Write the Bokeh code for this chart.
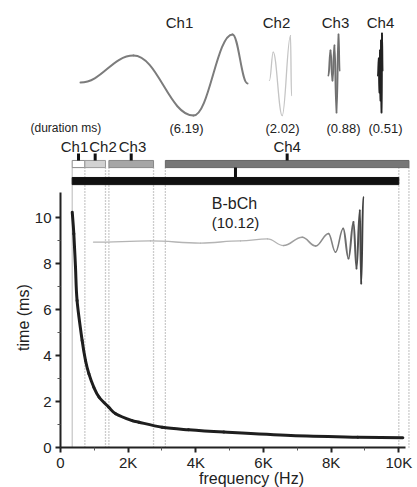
import numpy as np
from bokeh.plotting import figure
from bokeh.models import Range1d, FixedTicker, ColumnDataSource
from bokeh.embed import file_html
from bokeh.resources import INLINE
from bokeh.core.properties import value

# ---------------- data ----------------
curve_freq_hz = [347, 394, 443, 490, 640, 739, 840, 985, 1140, 1428, 1630,
                 2118, 2320, 3005, 3784, 4830, 6810, 8790, 10120]
curve_time_ms = [10.23, 9.29, 7.84, 6.39, 4.65, 3.78, 3.2, 2.62, 2.19, 1.75, 1.47,
                 1.17, 1.10, 0.88, 0.77, 0.67, 0.52, 0.45, 0.42]

channels = ["Ch1", "Ch2", "Ch3", "Ch4"]
band_lo_hz = [345, 720, 1430, 3100]
band_hi_hz = [720, 1330, 2750, 10300]
band_fill = ["#ffffff", "#d2d2d2", "#a6a6a6", "#777777"]
band_line = ["#8a8a8a", "#9a9a9a", "#888888", "#666666"]
durations_ms = [6.19, 2.02, 0.88, 0.51]
duration_labels = ["(6.19)", "(2.02)", "(0.88)", "(0.51)"]

bbch_name = "B-bCh"
bbch_lo_hz = 345
bbch_hi_hz = 10000
bbch_duration_ms = 10.12

edge_solid_hz = [345]
edge_dotted_hz = [720, 1330, 1430, 2750, 3100, 10000, 10300]

x_ticks = [0, 2000, 4000, 6000, 8000, 10000]
x_tick_labels = ["0", "2K", "4K", "6K", "8K", "10K"]
x_minor = [1000, 3000, 5000, 7000, 9000]
y_ticks = [0, 2, 4, 6, 8, 10]
y_minor = [1, 3, 5, 7, 9]

# illustrative waveforms: extrema (freq-axis units, time-axis units)
ch1_wx = [591, 2158, 3931, 5084, 5528]
ch1_wy = [15.87, 17.04, 14.43, 17.96, 15.83]
ch2_wx = [6178, 6287, 6553, 6799, 6828]
ch2_wy = [15.96, 17.19, 14.43, 17.91, 15.30]
ch3_wx = [7922, 7981, 8040, 8099, 8159, 8218, 8247]
ch3_wy = [16.17, 17.26, 15.96, 17.48, 14.57, 17.96, 16.39]
ch4_wx = [9385, 9409, 9430, 9444, 9459, 9474, 9489, 9503, 9518]
ch4_wy = [16.17, 16.91, 15.43, 17.26, 15.09, 17.70, 14.57, 18.0, 16.39]
bb_wx = [975, 2660, 4138, 5321, 6119, 6592, 7145, 7538, 7922, 8129, 8357,
         8513, 8661, 8750, 8848, 8889, 8948]
bb_wy = [8.93, 8.98, 8.89, 8.98, 9.07, 8.78, 9.14, 8.76, 9.30, 8.49, 9.52,
         8.22, 9.80, 7.78, 10.30, 7.13, 10.88]

FONT = value("Liberation Sans")
TXT = "#222222"

X0, X1 = -1773.6, 10552.8
Y0, Y1 = -1.739, 19.435
W, H = 417, 487

p = figure(width=W, height=H, output_backend="svg", toolbar_location=None,
           x_range=Range1d(X0, X1), y_range=Range1d(Y0, Y1),
           min_border=0, outline_line_color=None)
p.xgrid.visible = False
p.ygrid.visible = False

for ax in (p.xaxis, p.yaxis):
    ax.fixed_location = 0
    ax.axis_line_width = 2
    ax.axis_line_color = "#222222"
    ax.major_tick_line_color = "#222222"
    ax.minor_tick_line_color = "#555555"
    ax.major_tick_line_width = 2
    ax.major_tick_in = 0
    ax.major_tick_out = 5
    ax.minor_tick_in = 0
    ax.minor_tick_out = 3
    ax.major_label_text_font = "Liberation Sans"
    ax.major_label_text_font_size = "15px"
    ax.major_label_text_color = TXT
p.xaxis.bounds = (0, 10200)
p.yaxis.bounds = (0, 11.1)
p.xaxis.ticker = FixedTicker(ticks=x_ticks, minor_ticks=x_minor)
p.yaxis.ticker = FixedTicker(ticks=y_ticks, minor_ticks=y_minor)
p.xaxis.major_label_overrides = dict(zip(x_ticks, x_tick_labels))
p.xaxis.major_label_standoff = 1
p.yaxis.major_label_standoff = 4

# band edge lines
p.segment(x0=edge_solid_hz, y0=[0] * len(edge_solid_hz), x1=edge_solid_hz,
          y1=[12.17] * len(edge_solid_hz), line_color="#b8b8b8", line_width=1)
p.segment(x0=edge_dotted_hz, y0=[0] * len(edge_dotted_hz), x1=edge_dotted_hz,
          y1=[12.17] * len(edge_dotted_hz), line_color="#9a9a9a", line_width=1.3,
          line_dash="1 2")

# channel bars
bands = ColumnDataSource(dict(lo=band_lo_hz, hi=band_hi_hz, fill=band_fill, line=band_line,
                              mid=[(a + b) / 2 for a, b in zip(band_lo_hz, band_hi_hz)]))
p.quad(left="lo", right="hi", bottom=12.17, top=12.48, fill_color="fill",
       line_color="line", line_width=1, source=bands)
p.segment(x0="mid", y0=12.48, x1="mid", y1=12.78, line_color="#111111", line_width=3,
          source=bands)

# B-bCh bar
bb_mid = (bbch_lo_hz + bbch_hi_hz) / 2
p.segment(x0=[bb_mid], y0=[11.74], x1=[bb_mid], y1=[12.17], line_color="#111111", line_width=3)
p.quad(left=[bbch_lo_hz], right=[bbch_hi_hz], bottom=[11.43], top=[11.74],
       fill_color="#111111", line_color="#111111")

# main curve: smooth Catmull-Rom style bezier through the read points
sx = W / (X1 - X0)
sy = H / (Y1 - Y0)
cx = np.asarray(curve_freq_hz, float) * sx
cy = np.asarray(curve_time_ms, float) * sy
px = np.concatenate([[cx[0]], cx, [cx[-1]]])
py = np.concatenate([[cy[0]], cy, [cy[-1]]])
n = len(cx) - 1
c0x = cx[:-1] + (px[2:n + 2] - px[0:n]) / 6
c0y = cy[:-1] + (py[2:n + 2] - py[0:n]) / 6
c1x = cx[1:] - (px[3:n + 3] - px[1:n + 1]) / 6
c1y = cy[1:] - (py[3:n + 3] - py[1:n + 1]) / 6
p.bezier(x0=cx[:-1] / sx, y0=cy[:-1] / sy, x1=cx[1:] / sx, y1=cy[1:] / sy,
         cx0=c0x / sx, cy0=c0y / sy, cx1=c1x / sx, cy1=c1y / sy,
         line_color="#1e1e1e", line_width=3, line_cap="round")


def wave(xs, ys, colors, widths):
    xs = np.asarray(xs, float)
    ys = np.asarray(ys, float)
    x0, x1 = xs[:-1], xs[1:]
    y0, y1 = ys[:-1], ys[1:]
    d = x1 - x0
    p.bezier(x0=x0, y0=y0, x1=x1, y1=y1, cx0=x0 + 0.4 * d, cy0=y0,
             cx1=x1 - 0.4 * d, cy1=y1, line_color=colors, line_width=widths,
             line_cap="round")


nb = len(bb_wx) - 1
bb_cols = ["#b4b4b4"] * 5 + ["#a0a0a0", "#969696", "#8c8c8c", "#828282", "#787878",
                             "#6e6e6e", "#646464", "#5a5a5a", "#505050", "#484848",
                             "#404040"]
bb_w = [1.3] * 5 + [1.6] * 5 + [2.0] * (nb - 10)
wave(bb_wx, bb_wy, bb_cols[:nb], bb_w)
wave(ch1_wx, ch1_wy, ["#7c7c7c"] * 4, [2] * 4)
wave(ch2_wx, ch2_wy, ["#c4c4c4"] * 4, [1.3] * 4)
wave(ch3_wx, ch3_wy, ["#707070"] * 6, [2] * 6)
wave(ch4_wx, ch4_wy, ["#222222"] * 8, [2] * 8)


def txt(x, y, t, size, align="center"):
    p.text(x=x, y=y, text=t, text_font=FONT, text_font_size=size, text_color=TXT,
           text_align=align, text_baseline="middle")


txt([3518, 6385, 8129, 9459], [18.48] * 4, channels, "15px")
txt([3725, 6562, 8365, 9607], [13.87] * 4, duration_labels, "13px")
txt([-887], [13.87], ["(duration ms)"], "12px", align="left")
txt([414, 1256, 2128, 6700], [13.09] * 4, channels, "15px")
txt([5143], [10.6], [bbch_name], "16px")
txt([5172], [9.78], ["(%.2f)" % bbch_duration_ms], "15px")
txt([5646], [-1.35], ["frequency (Hz)"], "16px")
p.text(x=[-1079], y=[5.65], text=["time (ms)"], text_font=FONT, text_font_size="16px",
       text_color=TXT, text_align="center", text_baseline="middle", angle=np.pi / 2)

open("out.html", "w").write(file_html(p, INLINE))
